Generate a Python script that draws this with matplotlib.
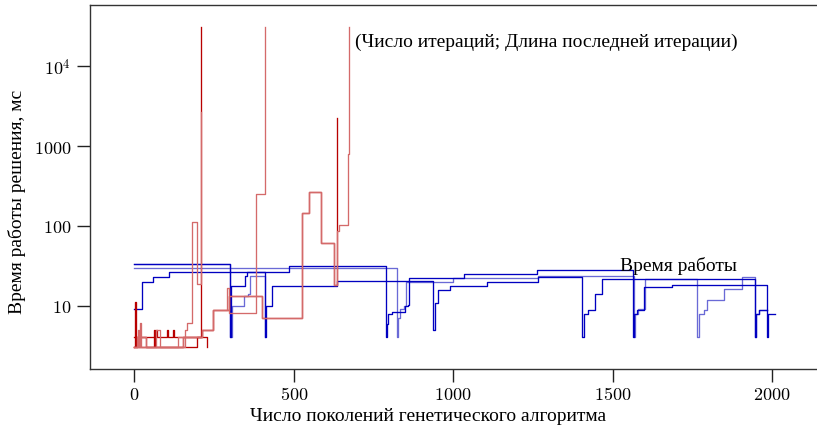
import matplotlib
matplotlib.use("Agg")
import matplotlib.pyplot as plt
from matplotlib.ticker import FixedLocator, NullLocator

# ---------------- data ----------------
# Blue series: "Время работы" (run time), step curves
b1_x = [0, 300, 302, 347, 354, 486, 790, 792, 797, 807, 850, 857, 862, 1035, 1262,
        1563, 1566, 1575, 1598, 1685, 1984, 1987, 2010]
b1_y = [33, 4, 17.8, 23.8, 26.7, 31.7, 4, 5.9, 7.9, 8.3, 9.8, 10.2, 22, 25, 28,
        4, 7.9, 8.9, 17, 18.2, 4, 7.9, 7.9]
b2_x = [0, 823, 826, 833, 845, 852, 1000, 1266, 1568, 1571, 1580, 1603, 1765, 1770,
        1786, 1797, 1850, 1907, 1947, 1950, 1960, 1984]
b2_y = [30, 4, 7, 9, 10, 19.8, 22, 23.5, 4, 7.9, 9, 21.6, 4, 7.9,
        8.9, 11.9, 16.2, 22.7, 4, 7.9, 8.9, 8.9]
b3_x = [0, 23, 59, 108, 409, 412, 433, 636, 937, 942, 953, 990, 1105, 1267, 1405,
        1410, 1424, 1445, 1466, 1947, 1950, 1960, 1984]
b3_y = [9.1, 19.8, 22.9, 26.2, 4, 10, 17.8, 20.2, 5, 10.9, 15.9, 17.8, 20, 22.7, 4,
        7.9, 8.9, 14, 21.6, 4, 7.9, 8.9, 8.9]
b4_x = [0, 300, 305, 343, 356, 363, 409]
b4_y = [33, 4, 10, 13.1, 14, 23.3, 4]

# Red series: "(Число итераций; Длина последней итерации)"
r1_x = [0, 2, 4, 20, 36, 67, 70, 101, 107, 120, 125, 153, 209]
r1_y = [3, 11, 4, 4, 4, 5, 4, 5, 4, 5, 4, 4, 31000]
r2_x = [0, 18, 22, 36, 136, 158, 165, 181, 195, 208]
r2_y = [3, 6, 3, 3, 3, 4.9, 6, 113, 18.7, 2700]
r3_x = [0, 10, 14, 45, 67, 80, 136, 211, 247, 289, 297, 383, 409]
r3_y = [3, 5, 3, 3, 5, 3, 4, 5, 8.9, 16.5, 8.0, 250, 31000]
r4_x = [0, 7, 36, 153, 197, 211, 247, 297, 401, 525, 548, 584, 626, 636]
r4_y = [3, 4, 3, 4, 4, 5, 8.9, 13.1, 7.0, 144, 263, 62, 18.3, 2240]
r5_x = [0, 7, 36, 153, 197, 211, 247, 297, 401, 525, 548, 584, 626, 637, 643, 671, 674]
r5_y = [3, 4, 3, 4, 4, 5, 8.9, 13.1, 7.0, 144, 263, 62, 18.3, 87, 103, 795, 31000]
r6_x = [0, 5, 40, 60, 65, 136, 195, 228]
r6_y = [4, 3, 3, 5, 3, 3, 4, 3]

x_ticks = [0, 500, 1000, 1500, 2000]
y_ticks = [10, 100, 1000, 10000]
y_tick_labels = ["$10$", "$100$", "$1000$", "$10^4$"]
x_tick_labels = ["$0$", "$500$", "$1000$", "$1500$", "$2000$"]

# ---------------- figure ----------------
plt.rcParams["font.family"] = ["Liberation Serif", "DejaVu Serif"]
plt.rcParams["mathtext.fontset"] = "cm"

fig = plt.figure(figsize=(8.17, 4.27), dpi=100)
ax = fig.add_axes([0.110, 0.1335, 0.890, 0.853])

DARK_BLUE = "#0000c0"
LIGHT_BLUE = "#6a6ad6"
DARK_RED = "#b80000"
LIGHT_RED = "#d46a6a"
lw = 0.95

ax.step(b4_x, b4_y, where="post", color=LIGHT_BLUE, lw=lw)
ax.step(b2_x, b2_y, where="post", color=LIGHT_BLUE, lw=lw)
ax.step(b3_x, b3_y, where="post", color=DARK_BLUE, lw=lw)
ax.step(b1_x, b1_y, where="post", color=DARK_BLUE, lw=lw)

ax.step(r1_x, r1_y, where="post", color=DARK_RED, lw=lw)
ax.step(r6_x, r6_y, where="post", color=DARK_RED, lw=lw)
ax.step(r4_x, r4_y, where="post", color=DARK_RED, lw=lw)
ax.step(r2_x, r2_y, where="post", color=LIGHT_RED, lw=lw)
ax.step(r3_x, r3_y, where="post", color=LIGHT_RED, lw=lw)
ax.step(r5_x, r5_y, where="post", color=LIGHT_RED, lw=lw)

ax.set_yscale("log")
ax.set_xlim(-139.6, 2141)
ax.set_ylim(1.61, 59200)

ax.xaxis.set_major_locator(FixedLocator(x_ticks))
ax.set_xticklabels(x_tick_labels)
ax.yaxis.set_major_locator(FixedLocator(y_ticks))
ax.yaxis.set_minor_locator(NullLocator())
ax.set_yticklabels(y_tick_labels)
ax.tick_params(axis="both", direction="out", length=9.5, width=1.0,
               labelsize=13, pad=4, color="#222222")
ax.tick_params(axis="x", pad=3)

for side in ["left", "bottom", "top"]:
    ax.spines[side].set_color("#333333")
    ax.spines[side].set_linewidth(1.0)
ax.spines["right"].set_visible(False)

ax.set_xlabel("Число поколений генетического алгоритма", fontsize=14)
ax.xaxis.set_label_coords(0.465, -0.104)
ax.set_ylabel("Время работы решения, мс", fontsize=14)
ax.yaxis.set_label_coords(-0.088, 0.4625)

ax.text(692, 20700, "(Число итераций; Длина последней итерации)", fontsize=14,
        ha="left", va="center")
ax.text(1705, 32.4, "Время работы", fontsize=14, ha="center", va="center")

fig.savefig("out.png", dpi=100)
